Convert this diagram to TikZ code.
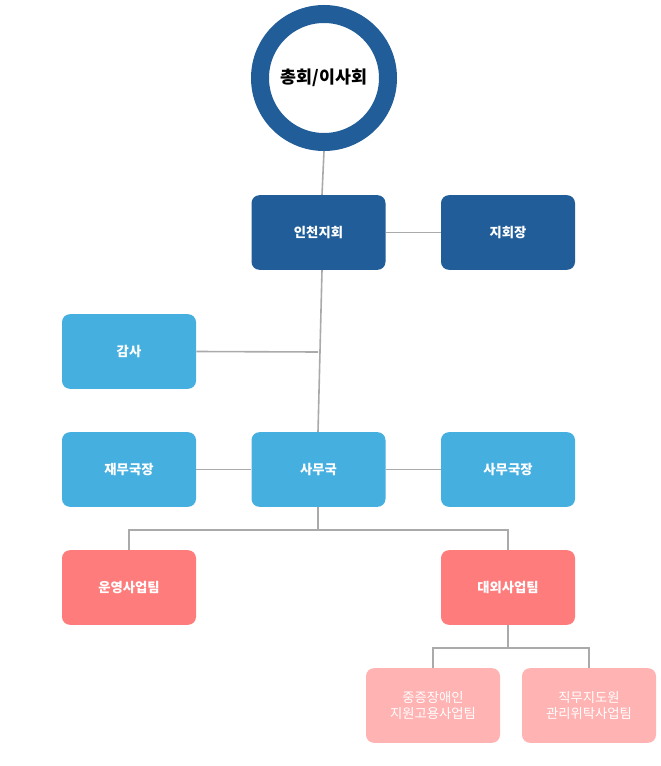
\documentclass[tikz,border=0pt]{standalone}
\usepackage{fontspec}
\setmainfont{Noto Sans CJK KR}
\usetikzlibrary{positioning}
\definecolor{darkblue}{HTML}{215E99}
\definecolor{lightblue}{HTML}{45AFE0}
\definecolor{salmon}{HTML}{FF7C7C}
\definecolor{pinkish}{HTML}{FFB3B3}
\definecolor{linegray}{HTML}{AAAAAA}
\begin{document}
\begin{tikzpicture}[
  x=0.75pt, y=-0.75pt,
  box/.style = {rounded corners=6pt, minimum width=100.5pt, minimum height=56pt, inner sep=0pt, text=white, font=\bfseries\fontsize{10}{12}\selectfont, align=center},
  dark/.style = {box, fill=darkblue},
  light/.style = {box, fill=lightblue},
  team/.style = {box, fill=salmon},
  sub/.style = {box, fill=pinkish, font=\fontsize{10}{12}\selectfont},
  link/.style = {draw=linegray, line width=1.2pt}
  ]
	\useasboundingbox (0,0) rectangle (660,766);

	% top of the tree
	\draw[darkblue, line width=13.5pt] (324,78) circle (64);
	\node[font=\bfseries\fontsize{13}{15}\selectfont] (top) at (324,78) {총회/이사회};
	\coordinate (topb) at (324,151);

	\node[dark] (branch) at (318.5,232.5) {인천지회};
	\node[dark] (chief) at (508,232.5) {지회장};
	\node[light] (audit) at (129,351.5) {감사};
	\node[light] (finance) at (129,469.5) {재무국장};
	\node[light] (office) at (318.5,469.5) {사무국};
	\node[light] (director) at (508,469.5) {사무국장};
	\node[team] (ops) at (129,587.5) {운영사업팀};
	\node[team] (ext) at (508,587.5) {대외사업팀};
	\node[sub] (disab) at (433,705.5) {중증장애인\\지원고용사업팀};
	\node[sub] (coach) at (589,705.5) {직무지도원\\관리위탁사업팀};

	% connectors
	\coordinate (aj) at (318,352);
	\coordinate (oj) at (318,530);
	\coordinate (ej) at (508,648);
	\draw[link] (topb) -- (branch.north -| 322,0);
	\draw[link] (branch) -- (chief);
	\draw[link] (branch.south -| 322,0) -- (office.north -| 318,0);
	\draw[link] (audit.east) -- (aj);
	\draw[link] (finance) -- (office);
	\draw[link] (office) -- (director);
	\draw[link] (office.south -| oj) -- (oj);
	\draw[link] (ops.north) |- (oj) -| (ext.north);
	\draw[link] (ext.south) -- (ej);
	\draw[link] (disab.north) |- (ej) -| (coach.north);
\end{tikzpicture}
\end{document}
